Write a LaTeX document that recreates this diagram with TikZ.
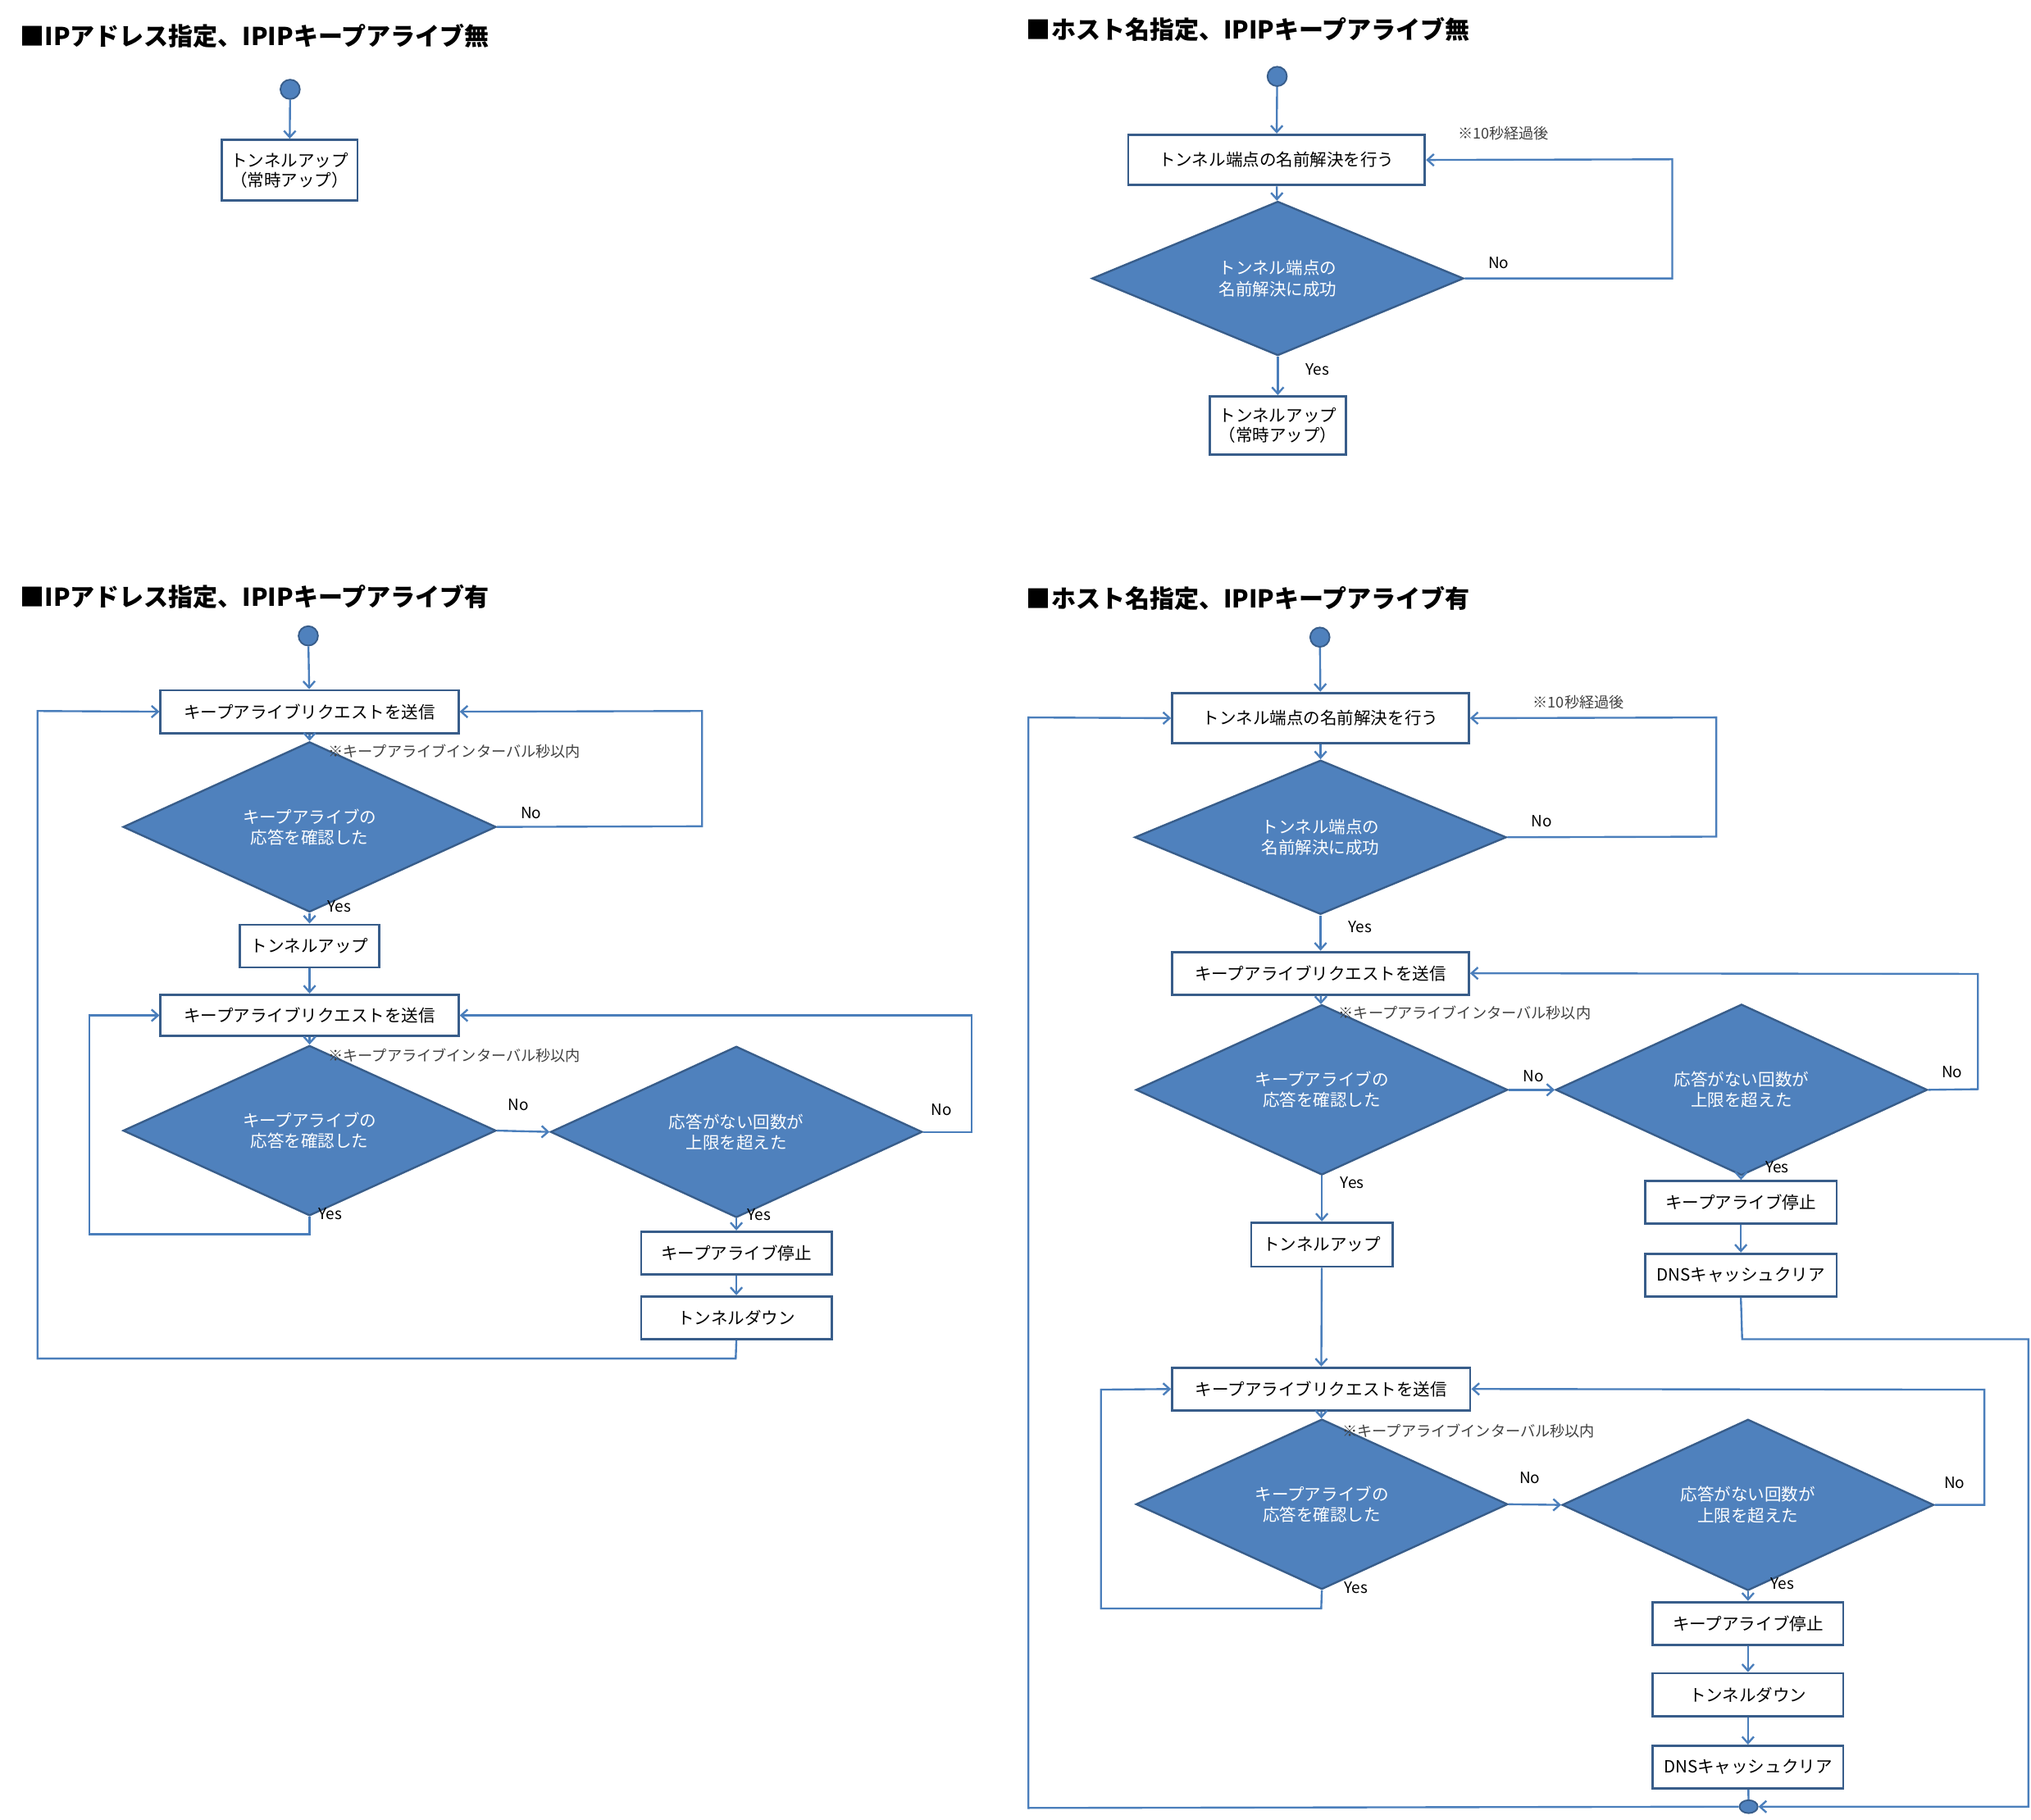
\documentclass[tikz,border=0pt]{standalone}
\usepackage{fontspec}
\setmainfont{Noto Sans CJK JP}
\usetikzlibrary{shapes.geometric,arrows.meta}
\definecolor{ln}{HTML}{4A7EBB}
\definecolor{bd}{HTML}{385D8A}
\definecolor{df}{HTML}{4F81BD}
\newcommand\mybox[6]{\node[bx,minimum width={(#4-#2)*1pt},minimum height={(#5-#3)*1pt}] (#1) at ({(#2+#4)/2},{(#3+#5)/2}) {#6};}
\newcommand\mydia[6]{\node[dia,minimum width={(#4-#2)*1pt},minimum height={(#5-#3)*1pt}] (#1) at ({(#2+#4)/2},{(#3+#5)/2}) {#6};}
\begin{document}
\begin{tikzpicture}[x=1pt,y=-1pt,
 bx/.style={draw=bd,line width=1.8pt,fill=white,inner sep=0pt,font=\fontsize{13}{15}\selectfont,align=center},
 dia/.style={diamond,draw=bd,line width=1.5pt,fill=df,inner sep=0pt,text=white,font=\fontsize{13}{16}\selectfont,align=center},
 st/.style={ellipse,draw=bd,line width=1.2pt,fill=df,minimum width=15pt,minimum height=15pt,inner sep=0pt},
 ar/.style={draw=ln,line width=1.5pt,-{Straight Barb[length=5pt,width=9pt]}},
 cn/.style={draw=ln,line width=1.5pt},
 lb/.style={font=\fontsize{12}{14}\selectfont},
 nt/.style={font=\fontsize{11.5}{13}\selectfont,text=black!75,anchor=west},
 tt/.style={font=\bfseries\fontsize{19}{22}\selectfont,anchor=west}]
\useasboundingbox (0,0) rectangle (1568,1405);
% ---------- panel 1
\node[tt] (t1) at (12,28) {■IPアドレス指定、IPIPキープアライブ無};
\node[st] (s1) at (224,69) {};
\mybox{b1}{171}{108}{276}{155}{トンネルアップ\\（常時アップ）}
\draw[ar] (s1) -- (b1);
% ---------- panel 2
\node[tt] (t2) at (789,23) {■ホスト名指定、IPIPキープアライブ無};
\node[st] (s2) at (986,59) {};
\mybox{g1}{871}{104}{1100}{143}{トンネル端点の名前解決を行う}
\mydia{h1}{843}{164}{1130}{266}{トンネル端点の\\名前解決に成功}
\mybox{n1}{934}{306}{1039}{351}{トンネルアップ\\（常時アップ）}
\coordinate (c21) at (1291,215); \coordinate (c22) at (1291,123);
\draw[ar] (s2) -- (g1);
\draw[ar] (g1) -- (h1);
\draw[ar] (h1.east) -- (c21) -- (c22) -- (g1.east);
\draw[ar] (h1) -- (n1);
\node[lb] (l21) at (1157,203) {No};
\node[lb] (l22) at (1017,285) {Yes};
\node[nt] (n21) at (1122,103) {※10秒経過後};
% ---------- panel 3
\node[tt] (t3) at (12,461) {■IPアドレス指定、IPIPキープアライブ有};
\node[st] (s3) at (238,491) {};
\mybox{A}{124}{533}{354}{566}{キープアライブリクエストを送信}
\mydia{D1}{95}{588}{383}{689}{キープアライブの\\応答を確認した}
\mybox{B}{185}{714}{293}{747}{トンネルアップ}
\mybox{C}{124}{768}{354}{800}{キープアライブリクエストを送信}
\mydia{D2}{95}{822}{383}{924}{キープアライブの\\応答を確認した}
\mydia{D3}{425}{823}{712}{925}{応答がない回数が\\上限を超えた}
\mybox{E}{495}{951}{642}{984}{キープアライブ停止}
\mybox{F}{495}{1001}{642}{1034}{トンネルダウン}
\draw[ar] (s3) -- (A);
\draw[ar] (A) -- (D1);
\coordinate (c31) at (542,638); \coordinate (c32) at (542,549);
\draw[ar] (D1.east) -- (c31) -- (c32) -- (A.east);
\draw[ar] (D1) -- (B);
\draw[ar] (B) -- (C);
\draw[ar] (C) -- (D2);
\draw[ar] (D2.east) -- (D3.west);
\coordinate (c33) at (750,874); \coordinate (c34) at (750,784);
\draw[ar] (D3.east) -- (c33) -- (c34) -- (C.east);
\coordinate (c35) at (239,953); \coordinate (c36) at (69,953); \coordinate (c37) at (69,784);
\draw[ar] (D2.south) -- (c35) -- (c36) -- (c37) -- (C.west);
\draw[ar] (D3) -- (E);
\draw[ar] (E) -- (F);
\coordinate (c38) at (568,1049); \coordinate (c39) at (29,1049); \coordinate (c40) at (29,549);
\draw[ar] (F.south) -- (c38) -- (c39) -- (c40) -- (A.west);
\node[nt] (n31) at (250,580) {※キープアライブインターバル秒以内};
\node[nt] (n32) at (250,815) {※キープアライブインターバル秒以内};
\node[lb] (l31) at (410,628) {No};
\node[lb] (l32) at (262,700) {Yes};
\node[lb] (l33) at (400,853) {No};
\node[lb] (l34) at (727,857) {No};
\node[lb] (l35) at (255,937) {Yes};
\node[lb] (l36) at (586,938) {Yes};
% ---------- panel 4
\node[tt] (t4) at (789,462) {■ホスト名指定、IPIPキープアライブ有};
\node[st] (s4) at (1019,492) {};
\mybox{G}{905}{535}{1134}{574}{トンネル端点の名前解決を行う}
\mydia{H}{876}{596}{1163}{697}{トンネル端点の\\名前解決に成功}
\mybox{I}{905}{735}{1134}{768}{キープアライブリクエストを送信}
\mydia{J}{877}{791}{1164}{892}{キープアライブの\\応答を確認した}
\mydia{K}{1201}{791}{1488}{892}{応答がない回数が\\上限を超えた}
\mybox{L}{1270}{912}{1418}{945}{キープアライブ停止}
\mybox{M}{1270}{968}{1418}{1001}{DNSキャッシュクリア}
\mybox{N}{966}{944}{1075}{978}{トンネルアップ}
\mybox{O}{905}{1056}{1135}{1089}{キープアライブリクエストを送信}
\mydia{P}{877}{1111}{1164}{1212}{キープアライブの\\応答を確認した}
\mydia{Q}{1206}{1111}{1493}{1213}{応答がない回数が\\上限を超えた}
\mybox{R}{1276}{1237}{1423}{1270}{キープアライブ停止}
\mybox{S}{1276}{1292}{1423}{1325}{トンネルダウン}
\mybox{T}{1276}{1348}{1423}{1381}{DNSキャッシュクリア}
\node[st,minimum width=14pt,minimum height=10pt] (e4) at (1350,1395) {};
\draw[ar] (s4) -- (G);
\draw[ar] (G) -- (H);
\coordinate (c41) at (1325,646); \coordinate (c42) at (1325,554);
\draw[ar] (H.east) -- (c41) -- (c42) -- (G.east);
\draw[ar] (H) -- (I);
\draw[ar] (I) -- (J);
\draw[ar] (J.east) -- (K.west);
\coordinate (c43) at (1527,841); \coordinate (c44) at (1527,752);
\draw[ar] (K.east) -- (c43) -- (c44) -- (I.east);
\draw[ar] (K) -- (L);
\draw[ar] (L) -- (M);
\coordinate (c45) at (1345,1034); \coordinate (c46) at (1566,1034); \coordinate (c47) at (1566,1395);
\draw[ar] (M.south) -- (c45) -- (c46) -- (c47) -- (e4.east);
\draw[ar] (J) -- (N);
\draw[ar] (N) -- (O);
\draw[ar] (O) -- (P);
\draw[ar] (P.east) -- (Q.west);
\coordinate (c48) at (1532,1162); \coordinate (c49) at (1532,1073);
\draw[ar] (Q.east) -- (c48) -- (c49) -- (O.east);
\coordinate (c50) at (1020,1242); \coordinate (c51) at (850,1242); \coordinate (c52) at (850,1073);
\draw[ar] (P.south) -- (c50) -- (c51) -- (c52) -- (O.west);
\draw[ar] (Q) -- (R);
\draw[ar] (R) -- (S);
\draw[ar] (S) -- (T);
\draw[cn] (T) -- (e4);
\coordinate (c53) at (794,1396); \coordinate (c54) at (794,554);
\draw[ar] (e4.west) -- (c53) -- (c54) -- (G.west);
\node[nt] (n41) at (1180,542) {※10秒経過後};
\node[nt] (n42) at (1030,782) {※キープアライブインターバル秒以内};
\node[nt] (n43) at (1033,1105) {※キープアライブインターバル秒以内};
\node[lb] (l41) at (1190,634) {No};
\node[lb] (l42) at (1050,716) {Yes};
\node[lb] (l43) at (1184,831) {No};
\node[lb] (l44) at (1507,828) {No};
\node[lb] (l45) at (1372,901) {Yes};
\node[lb] (l46) at (1044,913) {Yes};
\node[lb] (l47) at (1181,1141) {No};
\node[lb] (l48) at (1509,1145) {No};
\node[lb] (l49) at (1047,1226) {Yes};
\node[lb] (l50) at (1376,1223) {Yes};
\end{tikzpicture}
\end{document}
